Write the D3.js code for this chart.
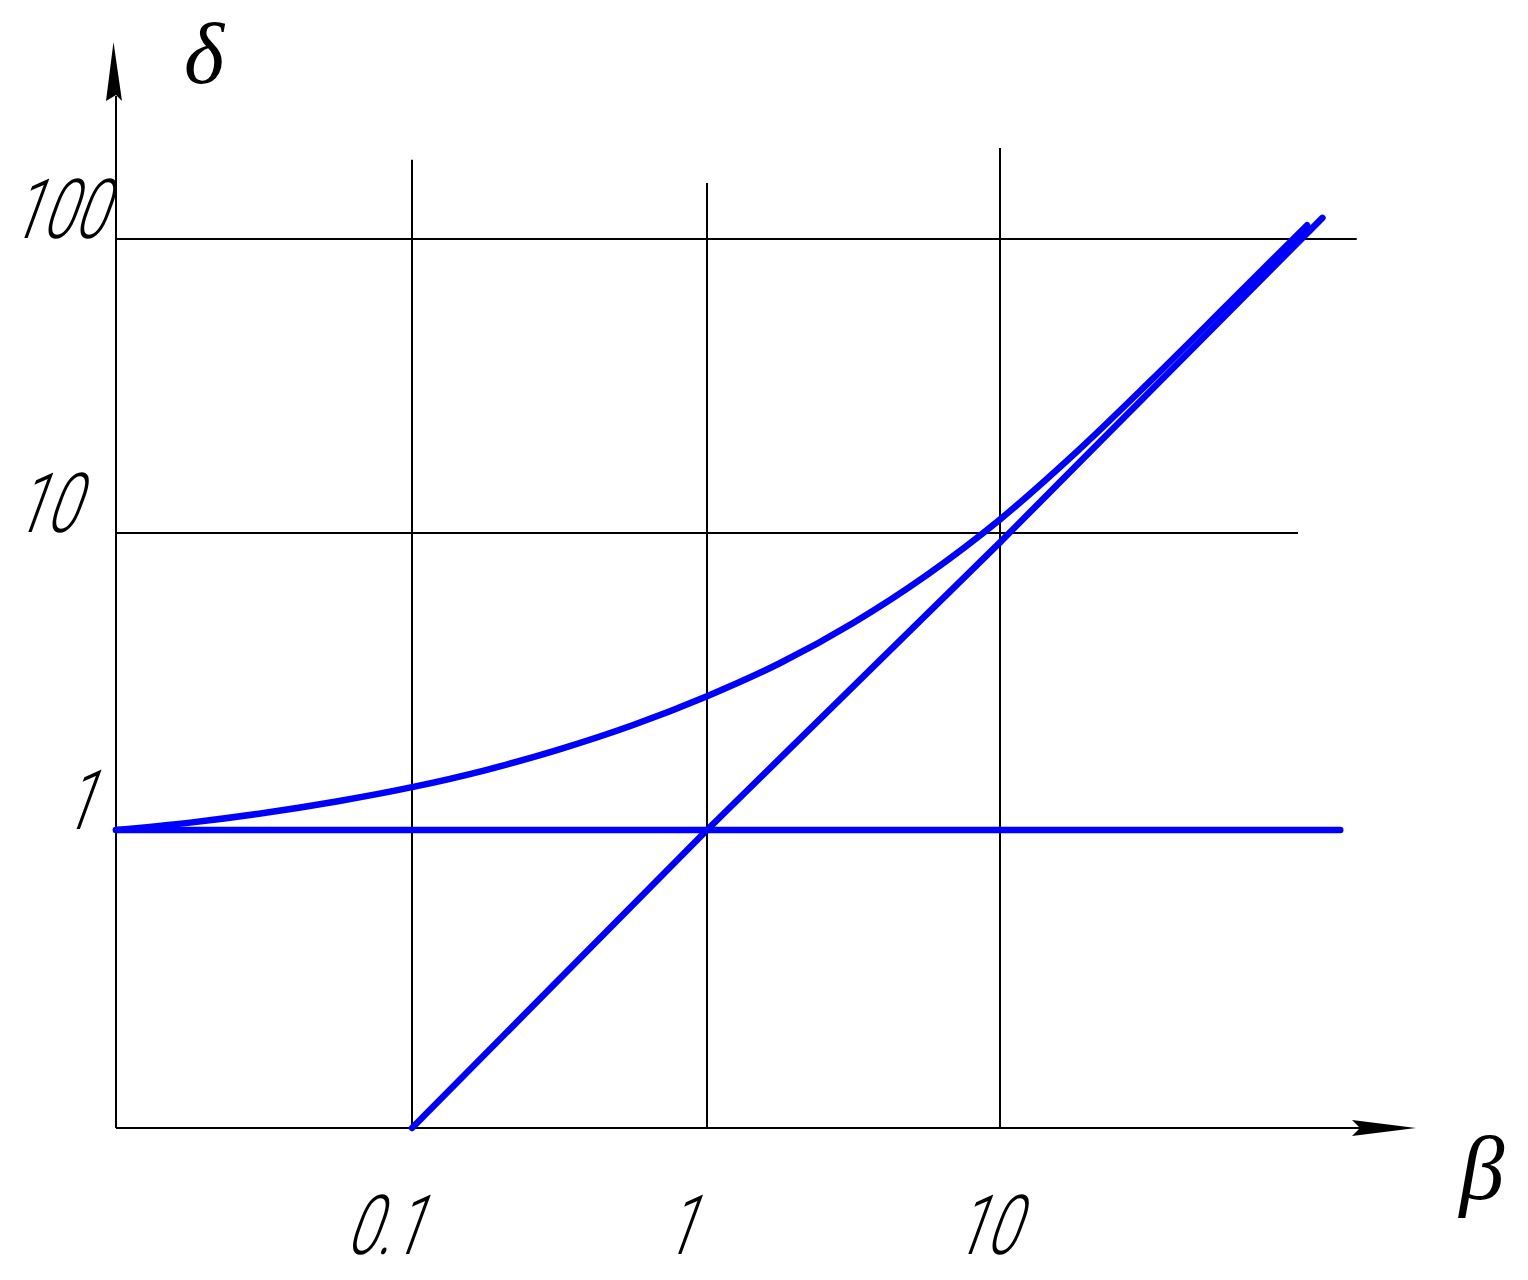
<!DOCTYPE html>
<html>
<head>
<meta charset="utf-8">
<script src="https://cdn.jsdelivr.net/npm/d3@7"></script>
<style>
  html, body { margin: 0; padding: 0; background: #ffffff; }
  svg { display: block; }
</style>
</head>
<body>
<svg id="chart" width="1528" height="1280"></svg>
<script>
// ---------- data ----------
const xTickValues = [0.1, 1, 10];
const xTickLabels = ["0.1", "1", "10"];
const yTickValues = [1, 10, 100];
const yTickLabels = ["1", "10", "100"];

// curve δ(β)
const curveBeta  = [0.01, 0.0178, 0.0316, 0.0562, 0.1, 0.178, 0.316, 0.562, 1, 1.778, 3.162, 5.623, 10, 18.03, 32.5, 60.9, 111.7];
const curveDelta = [1, 1.059, 1.141, 1.250, 1.394, 1.592, 1.869, 2.257, 2.822, 3.650, 4.989, 7.216, 11.12, 18.65, 32.78, 61.0, 111.4];

// asymptote δ = β
const diagBeta  = [0.1, 1, 10, 126];
const diagDelta = [0.1, 1, 9.3, 118];

// asymptote δ = 1
const flatBeta  = [0.01, 145];
const flatDelta = [1, 1];

// grid line extents (data units)
const vGridTop = [186, 155, 204];     // top δ of vertical grid lines at β = 0.1, 1, 10
const hGridValues = [10, 100];
const hGridEnd = [104, 165];          // right β of horizontal grid lines at δ = 10, 100

// ---------- scales ----------
const x = d3.scaleLog().domain([0.01, 0.1, 1, 10]).range([116, 412, 707, 1000]);
const y = d3.scaleLog().domain([0.1, 1, 10, 100]).range([1128, 830, 533, 239]);

const svg = d3.select("#chart");
const blue = "#0000ff";

// ---------- grid ----------
const grid = svg.append("g").attr("stroke", "#000").attr("stroke-width", 2).attr("fill", "none");
xTickValues.forEach((v, i) => {
  grid.append("line")
    .attr("x1", x(v)).attr("x2", x(v))
    .attr("y1", y(0.1)).attr("y2", y(vGridTop[i]));
});
hGridValues.forEach((v, i) => {
  grid.append("line")
    .attr("x1", x(0.01)).attr("x2", x(hGridEnd[i]))
    .attr("y1", y(v)).attr("y2", y(v));
});

// ---------- axes lines with arrows ----------
const ax = svg.append("g");
const x0 = x(0.01), y0 = y(0.1);
ax.append("line").attr("x1", x0).attr("x2", 1360).attr("y1", y0).attr("y2", y0)
  .attr("stroke", "#000").attr("stroke-width", 2);
ax.append("line").attr("x1", x0).attr("x2", x0).attr("y1", y0).attr("y2", 96)
  .attr("stroke", "#000").attr("stroke-width", 2);
ax.append("path")
  .attr("d", `M1416,${y0} L1352,${y0 - 8} L1360,${y0} L1352,${y0 + 8} Z`)
  .attr("fill", "#000");
ax.append("path")
  .attr("d", `M${x0 - 2.5},42 L${x0 - 10},101 L${x0},95 L${x0 + 6},101 Z`)
  .attr("fill", "#000");

// ---------- tick labels via d3 axes ----------
const labelFont = "Roboto, 'DejaVu Sans', sans-serif";
const slant = "skewX(-20) scale(0.69,1)";

const xLabelShift = { "0.1": -29.5, "1": -29.5, "10": -16.5 };
const xAxis = d3.axisBottom(x).tickValues(xTickValues).tickSize(0)
  .tickFormat((d, i) => xTickLabels[i]);
const gx = svg.append("g").attr("transform", `translate(0,${y0})`).call(xAxis);
gx.select(".domain").remove();
gx.selectAll("text")
  .attr("y", null).attr("dy", null)
  .attr("transform", (d, i) => `translate(${xLabelShift[xTickLabels[i]]},126) ${slant}`)
  .attr("text-anchor", "middle")
  .style("font-family", labelFont)
  .style("font-weight", 300)
  .style("font-size", "83px")
  .attr("fill", "#000");

const yLabelCenter = { "1": 76.5, "10": 44, "100": 56 };
const yAxis = d3.axisLeft(y).tickValues(yTickValues).tickSize(0)
  .tickFormat((d, i) => yTickLabels[i]);
const gy = svg.append("g").attr("transform", `translate(${x0},0)`).call(yAxis);
gy.select(".domain").remove();
gy.selectAll("text")
  .attr("x", null).attr("dy", null)
  .attr("transform", (d, i) => `translate(${yLabelCenter[yTickLabels[i]] - x0},-2) ${slant}`)
  .attr("text-anchor", "middle")
  .style("font-family", labelFont)
  .style("font-weight", 300)
  .style("font-size", "83px")
  .attr("fill", "#000");

// ---------- axis titles ----------
svg.append("text").text("δ")
  .attr("x", 204).attr("y", 83)
  .attr("text-anchor", "middle")
  .style("font-family", "'Liberation Serif', 'DejaVu Serif', serif")
  .style("font-style", "italic")
  .style("font-size", "86px")
  .attr("fill", "#000");
svg.append("text").text("β")
  .attr("x", 1482).attr("y", 1199)
  .attr("text-anchor", "middle")
  .style("font-family", "'Liberation Serif', 'DejaVu Serif', serif")
  .style("font-style", "italic")
  .style("font-size", "90px")
  .attr("fill", "#000");

// ---------- series ----------
const line = d3.line().x(d => x(d[0])).y(d => y(d[1]));
const smooth = d3.line().x(d => x(d[0])).y(d => y(d[1])).curve(d3.curveMonotoneX);
const zip = (a, b) => a.map((v, i) => [v, b[i]]);

const series = svg.append("g").attr("fill", "none").attr("stroke", blue)
  .attr("stroke-width", 6.5).attr("stroke-linecap", "round").attr("stroke-linejoin", "round");
series.append("path").attr("d", line(zip(flatBeta, flatDelta)));
series.append("path").attr("d", line(zip(diagBeta, diagDelta)));
series.append("path").attr("d", smooth(zip(curveBeta, curveDelta)));
</script>
</body>
</html>
